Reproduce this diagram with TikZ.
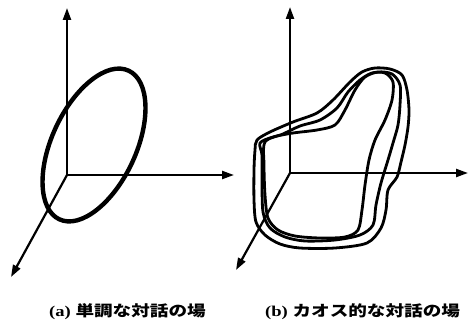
\documentclass[tikz,border=0pt]{standalone}
\usepackage{fontspec}
\usepackage{graphicx}
\setmainfont{Liberation Serif}
\newfontfamily\jp{Noto Sans CJK JP}
\usetikzlibrary{arrows.meta}
\begin{document}
\begin{tikzpicture}[x=1pt,y=-1pt,
  axis/.style={line width=2.2pt, -{Triangle[length=12pt,width=8pt]}},
  ring/.style={line width=4.4pt},
  blob/.style={line width=2.8pt, line join=round},
  captext/.style={anchor=west, inner sep=0pt, font=\fontsize{15}{16}\selectfont\bfseries}]
\useasboundingbox (0,0) rectangle (470,326);
% left panel axes
\coordinate (oa) at (67,175);
\coordinate (za) at (67,8);
\coordinate (xa) at (234,175);
\coordinate (ya) at (11,277);
\draw[axis] (oa) -- (za);
\draw[axis] (oa) -- (xa);
\draw[axis] (oa) -- (ya);
\draw[ring, rotate around={65:(94,145)}] (94,145) ellipse [x radius=82, y radius=42];
% right panel axes
\coordinate (ob) at (290,173);
\coordinate (zb) at (290,7);
\coordinate (xb) at (468,173);
\coordinate (yb) at (236,270);
\draw[axis] (ob) -- (zb);
\draw[axis] (ob) -- (xb);
\draw[axis] (ob) -- (yb);
% chaotic loops
\draw[blob] plot[smooth cycle, tension=0.5] coordinates {
 (257,140) (270,132) (293,122) (317,113) (333,100) (350,82) (362,72) (375,68)
 (390,69) (402,75) (407,90) (409,110) (408,127) (405,145) (401,162) (397,177)
 (388,190) (386,210) (381,228) (367,243) (335,248) (300,248) (280,244)
 (265,235) (256,222) (254,200) (254,170) (255,150)};
\draw[blob] plot[smooth cycle, tension=0.5] coordinates {
 (260,143) (273,137) (293,133) (317,130) (335,125) (345,110) (355,90) (365,77)
 (378,72) (392,74) (400,85) (400,105) (398,125) (393,143) (388,160) (381,183)
 (376,205) (373,225) (360,235) (335,240) (305,241) (285,237) (270,228)
 (263,212) (262,180) (262,155)};
\draw[blob] plot[smooth cycle, tension=0.5] coordinates {
 (265,142) (283,134) (300,126) (320,120) (337,108) (348,92) (360,80) (372,73)
 (385,73) (393,82) (392,100) (385,120) (375,140) (369,160) (365,185) (362,210)
 (358,230) (345,237) (320,238) (295,236) (278,230) (268,218) (265,195) (264,165)};
% captions
\node[captext] (capa) at (49,312) {\scalebox{1.24}[1]{(a) {\jp\bfseries 単調な対話の場}}};
\node[captext] (capb) at (265,312) {\scalebox{1.24}[1]{(b) {\jp\bfseries カオス的な対話の場}}};
\end{tikzpicture}
\end{document}
